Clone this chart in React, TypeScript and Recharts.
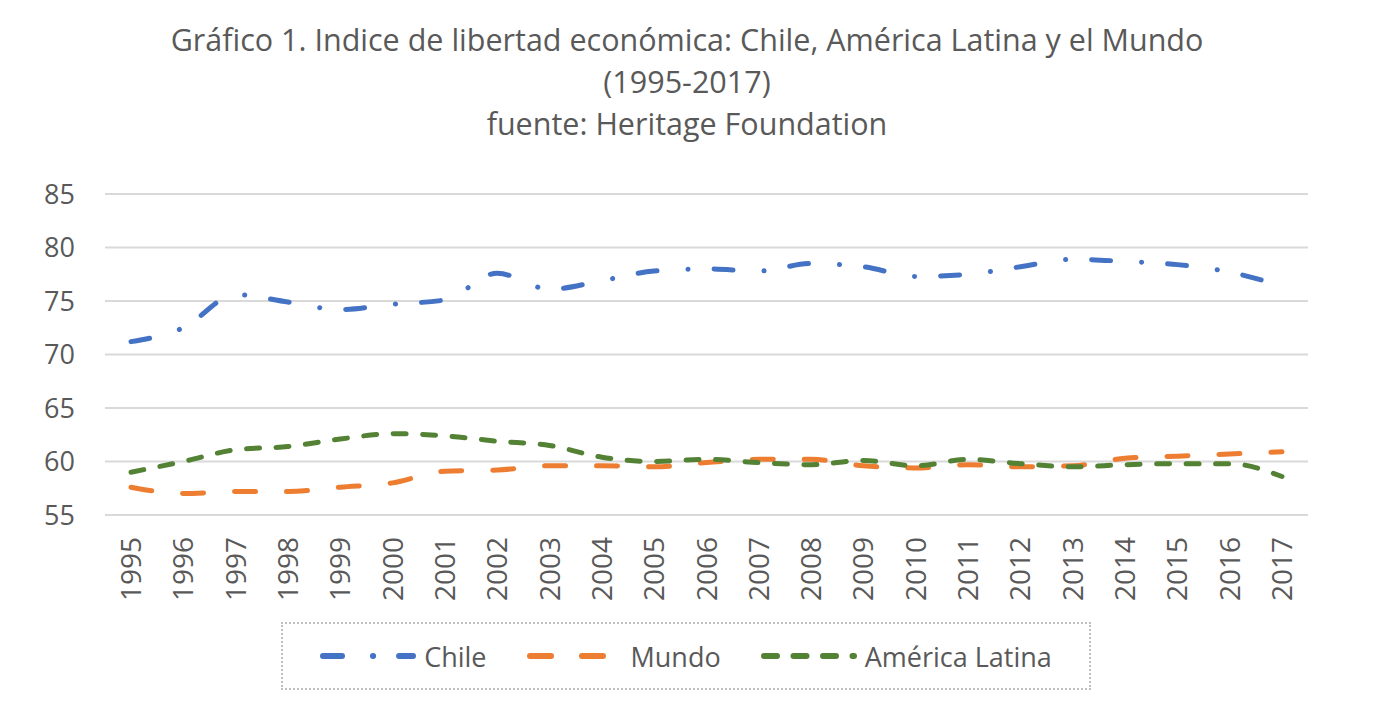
import { LineChart, Line, XAxis, YAxis, CartesianGrid } from 'recharts';

const years = [
  '1995', '1996', '1997', '1998', '1999', '2000', '2001', '2002', '2003', '2004', '2005', '2006',
  '2007', '2008', '2009', '2010', '2011', '2012', '2013', '2014', '2015', '2016', '2017',
];

const chile = [
  71.2, 72.5, 75.6, 74.9, 74.2, 74.7, 75.1, 77.6, 76.1, 76.9, 77.8, 78.0,
  77.8, 78.5, 78.2, 77.3, 77.5, 78.2, 78.9, 78.7, 78.4, 77.7, 76.4,
];

const mundo = [
  57.6, 57.0, 57.2, 57.2, 57.6, 58.0, 59.1, 59.2, 59.6, 59.6, 59.5, 59.9,
  60.2, 60.2, 59.6, 59.4, 59.7, 59.5, 59.6, 60.3, 60.5, 60.7, 60.9,
];

const americaLatina = [
  59.0, 60.0, 61.1, 61.4, 62.1, 62.6, 62.4, 61.9, 61.5, 60.4, 60.0, 60.2,
  59.9, 59.7, 60.1, 59.6, 60.2, 59.8, 59.5, 59.7, 59.8, 59.8, 58.6,
];

const yTicks = [55, 60, 65, 70, 75, 80, 85];

const titleLines = [
  'Gráfico 1. Indice de libertad económica: Chile, América Latina y el Mundo',
  '(1995-2017)',
  'fuente: Heritage Foundation',
];

const data = years.map((year, i) => ({
  year,
  chile: chile[i],
  mundo: mundo[i],
  latam: americaLatina[i],
}));

const FONT = '"Open Sans", sans-serif';
const TEXT = '#595959';

const series = [
  { key: 'chile', name: 'Chile', color: '#4472C4', dash: '19 31 0.1 26' },
  { key: 'mundo', name: 'Mundo', color: '#ED7D31', dash: '21 31' },
  { key: 'latam', name: 'América Latina', color: '#548235', dash: '13 16.5' },
];

function YearTick({ x, y, payload }: any) {
  const ax = x + 10;
  const ay = y + 14;
  return (
    <text
      x={ax}
      y={ay}
      transform={`rotate(-90, ${ax}, ${ay})`}
      textAnchor="end"
      fontSize={28}
      fontFamily={FONT}
      fill={TEXT}
    >
      {payload.value}
    </text>
  );
}

function LegendBox() {
  return (
    <div
      style={{
        position: 'absolute',
        left: 281,
        top: 622,
        width: 810,
        height: 68,
        border: '2px dotted #bfbfbf',
        boxSizing: 'border-box',
        display: 'flex',
        alignItems: 'center',
        justifyContent: 'center',
        gap: 40,
        fontFamily: FONT,
        fontSize: 27,
        color: TEXT,
      }}
    >
      {series.map((s) => (
        <div key={s.key} style={{ display: 'flex', alignItems: 'center', gap: 8 }}>
          <svg width={96} height={20}>
            <line
              x1={3}
              y1={10}
              x2={93}
              y2={10}
              stroke={s.color}
              strokeWidth={6}
              strokeLinecap="round"
              strokeDasharray={s.dash}
            />
          </svg>
          <span>{s.name}</span>
        </div>
      ))}
    </div>
  );
}

export default function App() {
  return (
    <div style={{ position: 'absolute', left: 0, top: 0, width: 1374, height: 720, background: '#fff' }}>
      <div
        style={{
          position: 'absolute',
          left: 0,
          top: 18,
          width: 1374,
          textAlign: 'center',
          fontFamily: FONT,
          fontSize: 30.5,
          lineHeight: '42px',
          color: TEXT,
        }}
      >
        {titleLines.map((t) => (
          <div key={t}>{t}</div>
        ))}
      </div>
      <LineChart
        width={1374}
        height={720}
        data={data}
        margin={{ top: 194, right: 66, left: 0, bottom: 105 }}
      >
        <CartesianGrid horizontal vertical={false} stroke="#d9d9d9" strokeWidth={2} />
        <XAxis
          dataKey="year"
          axisLine={false}
          tickLine={false}
          interval={0}
          height={100}
          padding={{ left: 26, right: 26 }}
          tick={<YearTick />}
        />
        <YAxis
          domain={[55, 85]}
          ticks={yTicks}
          width={105}
          axisLine={false}
          tickLine={false}
          tickMargin={24}
          tick={{ fontSize: 27, fontFamily: FONT, fill: TEXT }}
        />
        {series.map((s) => (
          <Line
            key={s.key}
            type="monotone"
            dataKey={s.key}
            name={s.name}
            stroke={s.color}
            strokeWidth={5}
            strokeLinecap="round"
            strokeDasharray={s.dash}
            dot={false}
            activeDot={false}
            isAnimationActive={false}
          />
        ))}
      </LineChart>
      <LegendBox />
    </div>
  );
}
